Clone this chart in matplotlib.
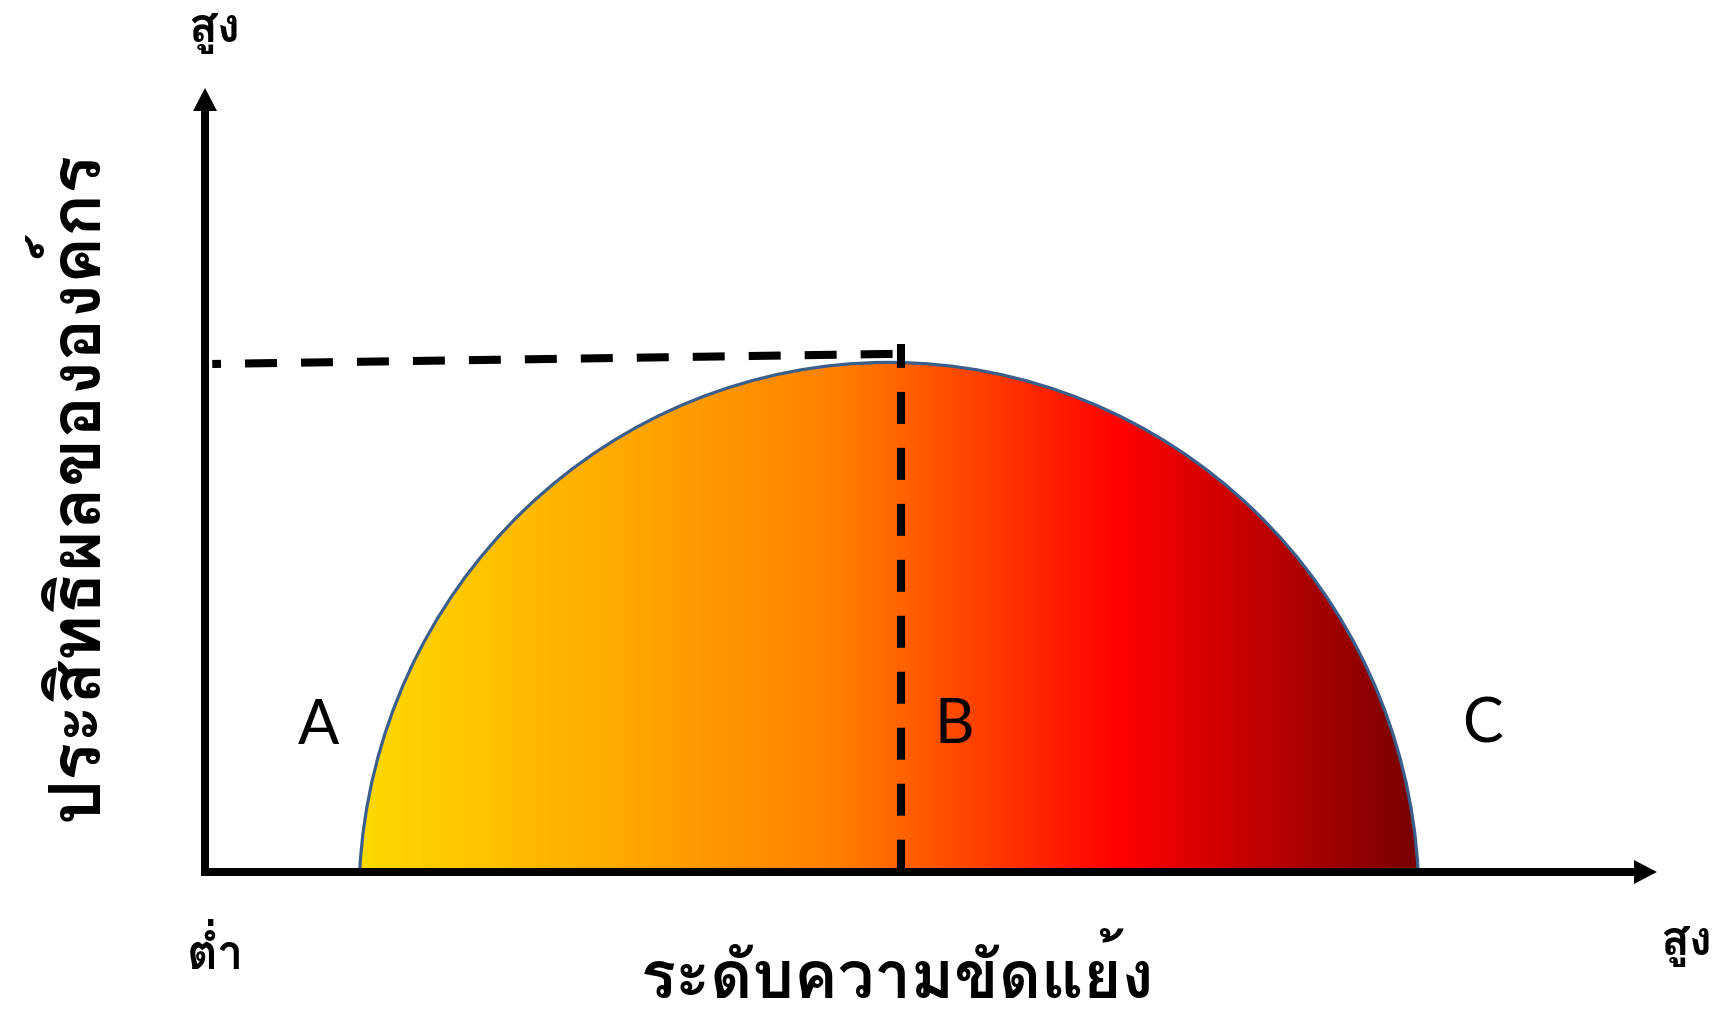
import numpy as np
import matplotlib
matplotlib.use('Agg')
import matplotlib.pyplot as plt
from matplotlib.patches import Ellipse, Arc
from matplotlib.colors import LinearSegmentedColormap

plt.rcParams['lines.scale_dashes'] = False
thai = ['Loma', 'Noto Sans Thai Looped', 'DejaVu Sans']

# axes run from 0 (origin) to 10 (arrow tips) on both sides
axis_end = 10.0

# the curve: an elliptic arc whose centre sits slightly under the x axis
curve_center = (4.71, -0.36)
curve_half_width = 3.65
curve_half_height = 6.86

# peak of effectiveness (point B) and the dashed guides to it
peak_level = 4.79
guide_h_x = [4.79, 0.05]
guide_h_y = [6.61, 6.48]
guide_v_y = [6.74, 0.0]

# points on the conflict scale
point_names = ['A', 'B', 'C']
point_x = [0.78, 5.16, 8.80]
point_y = [1.86, 1.87, 1.87]

# gradient fill, left to right
grad_stops = [0.0, 0.45, 0.72, 1.0]
grad_colors = ['#FFDA00', '#FF8000', '#FF0000', '#780000']

x_title = 'ระดับความขัดแย้ง'
y_title = 'ประสิทธิผลขององค์กร'
low_label = 'ต่ำ'
high_label = 'สูง'

# pixel scale of one data unit and where the origin sits
px_x, px_y = 145.2, 78.4
W, H = 1727, 1010
ox, oy = 205, 872

fig = plt.figure(figsize=(W / 100, H / 100), dpi=100)
ax = fig.add_axes([0, 0, 1, 1])
ax.set_xlim(-ox / px_x, (W - ox) / px_x)
ax.set_ylim(-(H - oy) / px_y, oy / px_y)
ax.axis('off')

# gradient half-ellipse
cx, cy = curve_center
a, b = curve_half_width, curve_half_height
ell = Ellipse(curve_center, 2 * a, 2 * b, facecolor='none', edgecolor='none')
ax.add_patch(ell)
cmap = LinearSegmentedColormap.from_list('heat', list(zip(grad_stops, grad_colors)))
grad = np.linspace(0, 1, 512).reshape(1, -1)
im = ax.imshow(grad, cmap=cmap, aspect='auto', interpolation='bilinear',
               extent=[cx - a, cx + a, 0, cy + b], zorder=1)
im.set_clip_path(ell)

# outline, stopping where the ellipse meets the x axis
p0 = np.arcsin(-cy / b)
t0 = np.degrees(np.arctan2(np.sin(p0) * b / a, np.cos(p0)))
ax.add_patch(Arc(curve_center, 2 * a, 2 * b, theta1=t0, theta2=180 - t0,
                 color='#3A5F8C', lw=2.3, zorder=2))

# dashed guides
ax.plot(guide_h_x, guide_h_y, color='black', lw=5.8,
        linestyle=(34.6, (23.0, 17.3)), zorder=3)
ax.plot([peak_level, peak_level], guide_v_y, color='black', lw=5.8,
        linestyle=(5.8, (23.0, 17.3)), zorder=3)

# axes with arrow heads
ax.arrow(-4 / px_x, 0, axis_end + 4 / px_x, 0, width=8 / px_y, head_width=24 / px_y,
         head_length=23 / px_x, length_includes_head=True, lw=0, fc='black', zorder=4)
ax.arrow(0, 0, 0, axis_end, width=8 / px_x, head_width=24 / px_x,
         head_length=23 / px_y, length_includes_head=True, lw=0, fc='black', zorder=4)

for name, x, y in zip(point_names, point_x, point_y):
    ax.text(x, y, name, ha='center', va='center', fontsize=44,
            family=['Lato', 'DejaVu Sans'], zorder=5)

ax.text(0.06, 10.59, high_label, ha='center', va='baseline', fontsize=34,
        fontweight='bold', family=thai)
ax.text(0.069, -1.24, low_label, ha='center', va='baseline', fontsize=34,
        fontweight='bold', family=thai)
ax.text(10.2, -1.06, high_label, ha='center', va='baseline', fontsize=34,
        fontweight='bold', family=thai)
ax.text(4.77, -1.61, x_title, ha='center', va='baseline', fontsize=47,
        fontweight='bold', family=thai)
ax.text(-0.90, 4.93, y_title, ha='center', va='center', rotation=90,
        fontsize=51, fontweight='bold', family=thai)

fig.savefig('out.png', dpi=100)
